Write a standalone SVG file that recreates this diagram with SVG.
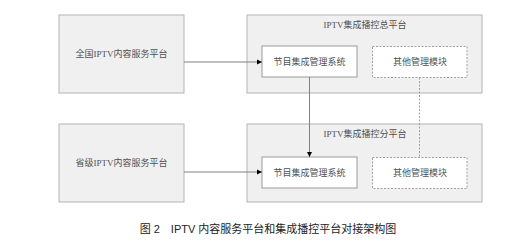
<svg xmlns="http://www.w3.org/2000/svg" width="511" height="246" viewBox="0 0 511 246">
<style>
.outer{fill:#f0f0f0;stroke:#b4b4b4;stroke-width:1}
.inner{fill:#ffffff;stroke:#9a9a9a;stroke-width:1}
.dash{fill:#ffffff;stroke:#a0a0a0;stroke-width:1;stroke-dasharray:2 1.5}
.t{font-family:"Liberation Serif","Noto Sans CJK SC",serif;font-size:9px;fill:#505050;text-anchor:middle;dominant-baseline:central}
.cap{font-family:"Liberation Sans","Noto Sans CJK SC",sans-serif;font-size:11px;fill:#222;text-anchor:middle;dominant-baseline:central}
.ln{stroke:#808080;stroke-width:1;fill:none}
.dl{stroke:#a0a0a0;stroke-width:1;fill:none;stroke-dasharray:2 1.5}
</style>
<defs>
<marker id="ah" markerWidth="6" markerHeight="6" refX="5" refY="3" orient="auto" markerUnits="userSpaceOnUse">
<path d="M0,0.5 L5,3 L0,5.5 Z" fill="#000"/>
</marker>
</defs>
<g id="national">
<rect class="outer" x="59" y="15" width="125" height="78"/>
<text class="t" x="121.5" y="54">全国IPTV内容服务平台</text>
</g>
<g id="head-platform">
<rect class="outer" x="247" y="15" width="235" height="78"/>
<text class="t" x="365" y="25">IPTV集成播控总平台</text>
</g>
<g id="head-prog">
<rect class="inner" x="262" y="46" width="95" height="31"/>
<text class="t" x="309.5" y="62">节目集成管理系统</text>
</g>
<g id="head-other">
<rect class="dash" x="372.5" y="46.5" width="94.5" height="31"/>
<text class="t" x="420" y="62">其他管理模块</text>
</g>
<g id="provincial">
<rect class="outer" x="59" y="124" width="125" height="78"/>
<text class="t" x="121.5" y="163">省级IPTV内容服务平台</text>
</g>
<g id="branch-platform">
<rect class="outer" x="247" y="124" width="235" height="78"/>
<text class="t" x="365" y="134">IPTV集成播控分平台</text>
</g>
<g id="branch-prog">
<rect class="inner" x="262" y="157" width="95" height="31"/>
<text class="t" x="309.5" y="173">节目集成管理系统</text>
</g>
<g id="branch-other">
<rect class="dash" x="372.5" y="157.5" width="94.5" height="31"/>
<text class="t" x="420" y="173">其他管理模块</text>
</g>
<g id="connectors">
<line class="ln" x1="184" y1="62" x2="262" y2="62" marker-end="url(#ah)"/>
<line class="ln" x1="184" y1="172" x2="262" y2="172" marker-end="url(#ah)"/>
<line class="ln" x1="309.5" y1="77" x2="309.5" y2="157" marker-end="url(#ah)"/>
<line class="dl" x1="419.5" y1="77.5" x2="419.5" y2="157.5"/>
</g>
<text class="cap" x="268" y="229">图 2　IPTV 内容服务平台和集成播控平台对接架构图</text>
</svg>
